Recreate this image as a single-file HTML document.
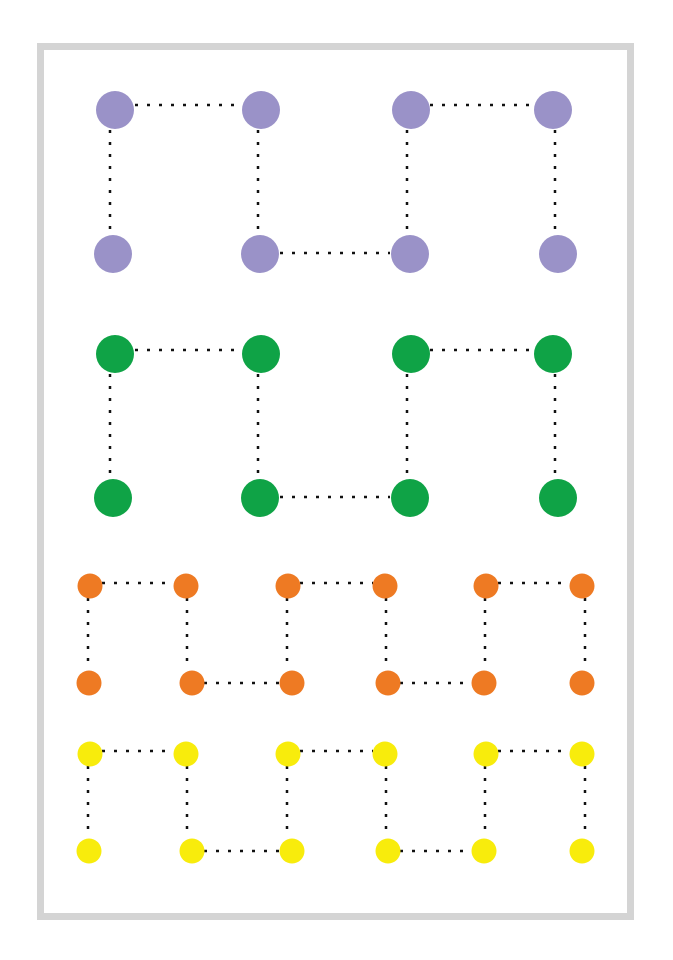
<!DOCTYPE html>
<html><head><style>body{margin:0;background:#fff}svg{display:block}</style></head>
<body>
<svg width="673" height="960" viewBox="0 0 673 960" xmlns="http://www.w3.org/2000/svg">
<rect x="0" y="0" width="673" height="960" fill="#fff"/>
<rect x="40.5" y="46.5" width="590" height="870" fill="none" stroke="#d4d4d4" stroke-width="7"/>
<g stroke="#111" stroke-width="2.5" stroke-dasharray="3 9" fill="none">
<!-- purple -->
<line x1="135" y1="105" x2="240" y2="105"/><line x1="430" y1="105" x2="533" y2="105"/>
<line x1="110" y1="130" x2="110" y2="233"/><line x1="258" y1="130" x2="258" y2="233"/>
<line x1="407" y1="130" x2="407" y2="233"/><line x1="555" y1="130" x2="555" y2="233"/>
<line x1="280" y1="253" x2="390" y2="253"/>
<!-- green -->
<line x1="135" y1="350" x2="240" y2="350"/><line x1="430" y1="350" x2="533" y2="350"/>
<line x1="110" y1="374" x2="110" y2="478"/><line x1="258" y1="374" x2="258" y2="478"/>
<line x1="407" y1="374" x2="407" y2="478"/><line x1="555" y1="374" x2="555" y2="478"/>
<line x1="280" y1="497" x2="390" y2="497"/>
<!-- orange -->
<line x1="102" y1="583" x2="174" y2="583"/><line x1="300" y1="583" x2="373" y2="583"/><line x1="498" y1="583" x2="570" y2="583"/>
<line x1="88" y1="598" x2="88" y2="670"/><line x1="187" y1="598" x2="187" y2="670"/><line x1="287" y1="598" x2="287" y2="670"/>
<line x1="386" y1="598" x2="386" y2="670"/><line x1="485" y1="598" x2="485" y2="670"/><line x1="585" y1="598" x2="585" y2="670"/>
<line x1="204" y1="683" x2="280" y2="683"/><line x1="400" y1="683" x2="472" y2="683"/>
<!-- yellow -->
<line x1="102" y1="751" x2="174" y2="751"/><line x1="300" y1="751" x2="373" y2="751"/><line x1="498" y1="751" x2="570" y2="751"/>
<line x1="88" y1="766" x2="88" y2="838"/><line x1="187" y1="766" x2="187" y2="838"/><line x1="287" y1="766" x2="287" y2="838"/>
<line x1="386" y1="766" x2="386" y2="838"/><line x1="485" y1="766" x2="485" y2="838"/><line x1="585" y1="766" x2="585" y2="838"/>
<line x1="204" y1="851" x2="280" y2="851"/><line x1="400" y1="851" x2="472" y2="851"/>
</g>
<g fill="#9a92c8">
<circle cx="115" cy="110" r="19"/><circle cx="261" cy="110" r="19"/><circle cx="411" cy="110" r="19"/><circle cx="553" cy="110" r="19"/>
<circle cx="113" cy="254" r="19"/><circle cx="260" cy="254" r="19"/><circle cx="410" cy="254" r="19"/><circle cx="558" cy="254" r="19"/>
</g>
<g fill="#0fa346">
<circle cx="115" cy="354" r="19"/><circle cx="261" cy="354" r="19"/><circle cx="411" cy="354" r="19"/><circle cx="553" cy="354" r="19"/>
<circle cx="113" cy="498" r="19"/><circle cx="260" cy="498" r="19"/><circle cx="410" cy="498" r="19"/><circle cx="558" cy="498" r="19"/>
</g>
<g fill="#ee7a23">
<circle cx="90" cy="586" r="12.5"/><circle cx="186" cy="586" r="12.5"/><circle cx="288" cy="586" r="12.5"/><circle cx="385" cy="586" r="12.5"/><circle cx="486" cy="586" r="12.5"/><circle cx="582" cy="586" r="12.5"/>
<circle cx="89" cy="683" r="12.5"/><circle cx="192" cy="683" r="12.5"/><circle cx="292" cy="683" r="12.5"/><circle cx="388" cy="683" r="12.5"/><circle cx="484" cy="683" r="12.5"/><circle cx="582" cy="683" r="12.5"/>
</g>
<g fill="#f8ec0c">
<circle cx="90" cy="754" r="12.5"/><circle cx="186" cy="754" r="12.5"/><circle cx="288" cy="754" r="12.5"/><circle cx="385" cy="754" r="12.5"/><circle cx="486" cy="754" r="12.5"/><circle cx="582" cy="754" r="12.5"/>
<circle cx="89" cy="851" r="12.5"/><circle cx="192" cy="851" r="12.5"/><circle cx="292" cy="851" r="12.5"/><circle cx="388" cy="851" r="12.5"/><circle cx="484" cy="851" r="12.5"/><circle cx="582" cy="851" r="12.5"/>
</g>
</svg>
</body></html>
